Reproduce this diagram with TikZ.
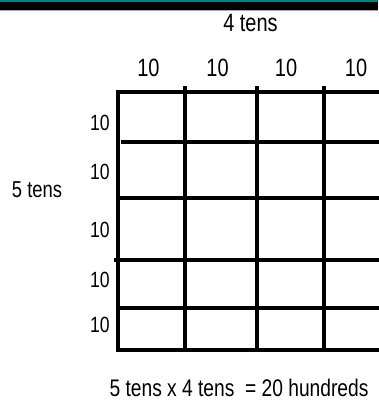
\documentclass[tikz,border=0pt]{standalone}
\usepackage{fontspec}
\setmainfont{Liberation Sans}
\usetikzlibrary{positioning}
\definecolor{barteal}{RGB}{0,128,128}
\definecolor{rulegray}{RGB}{170,170,170}

\begin{document}
\begin{tikzpicture}[x=1pt, y=-1pt,
    gridline/.style={line width=3.6pt, line cap=rect},
    biglbl/.style={inner sep=0pt, font=\fontsize{25}{25}\selectfont, xscale=0.8, transform shape},
    rowlbl/.style={inner sep=0pt, font=\fontsize{22}{22}\selectfont, xscale=0.8, transform shape}]
    \useasboundingbox (0,0) rectangle (378,403);
    % --- header band ---
    \fill[barteal] (0,0) rectangle (378,2.5);
    \fill[black] (0,2.5) rectangle (378,10);
    \fill[rulegray] (0,10) rectangle (378,11);
    % --- grid: 4 tens across, 5 tens down ---
    \draw[gridline] (118,92) -- (378,92);
    \draw[gridline] (123,142) -- (378,142);
    \draw[gridline] (118,198) -- (378,198);
    \draw[gridline] (116,260) -- (378,260);
    \draw[gridline] (121,308) -- (378,308);
    \draw[gridline] (118,350) -- (378,350);
    \draw[gridline] (118,92) -- (118,350);
    \foreach \gx in {185,257,324}
      \draw[gridline] (\gx,88) -- (\gx,349);
    % --- column labels ---
    \node[biglbl] (fourtens) at (250.5,23) {4 tens};
    \node[biglbl] (colA) at (148.5,68) {10};
    \node[biglbl] (colB) at (217.5,68) {10};
    \node[biglbl] (colC) at (286,68) {10};
    \node[biglbl] (colD) at (356,68) {10};
    % --- row labels ---
    \node[biglbl, font=\fontsize{23}{23}\selectfont] (fivetens) at (37,190) {5 tens};
    \node[rowlbl] (rowA) at (100,123) {10};
    \node[rowlbl] (rowB) at (100,172) {10};
    \node[rowlbl] (rowC) at (100,229.5) {10};
    \node[rowlbl] (rowD) at (100,280) {10};
    \node[rowlbl] (rowE) at (100,324.5) {10};
    % --- product ---
    \node[biglbl, font=\fontsize{24}{24}\selectfont] (product) at (239,388)
      {5 tens x 4 tens\ \ = 20 hundreds};
\end{tikzpicture}
\end{document}
